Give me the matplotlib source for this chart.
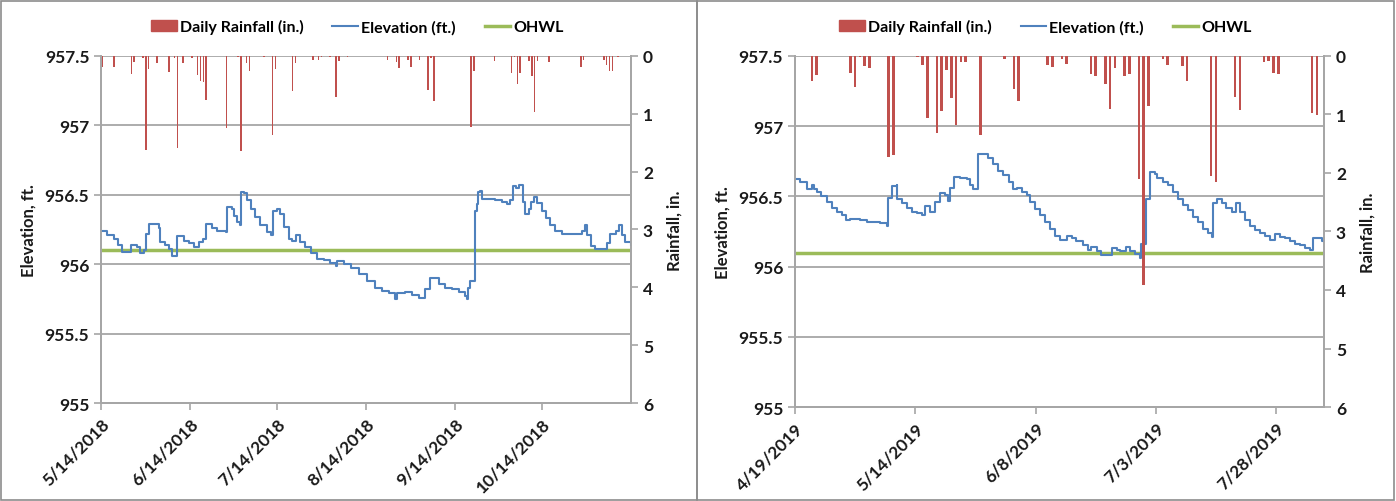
#importing Libraries
import numpy as np
import pandas as pd
import matplotlib
matplotlib.use("Agg")
import matplotlib.pyplot as plt
from matplotlib.patches import Rectangle, Patch
from matplotlib.lines import Line2D

plt.rcParams['font.family'] = ['Lato', 'DejaVu Sans']
plt.rcParams['font.weight'] = 'bold'
plt.rcParams['axes.labelweight'] = 'bold'

#----- 2018 panel data (days after 5/14/2018) -----
start_l = pd.Timestamp("2018-05-14")
end_l = pd.Timestamp("2018-11-14")
rain_day_l = [0, 4, 10, 11, 14, 15, 16, 19, 23, 25, 26, 28, 31, 33, 34, 35, 36,
              43, 47, 48, 50, 51, 56, 59, 60, 66, 67, 73, 75, 76, 79, 81, 82,
              85, 99, 102, 103, 106, 107, 110, 113, 114, 115, 128, 129, 136,
              142, 143, 144, 145, 148, 149, 150, 151, 155, 166, 167, 174, 175,
              176, 177, 179]
rain_l = [0.19, 0.19, 0.32, 0.10, 0.04, 1.62, 0.23, 0.12, 0.28, 0.04, 1.60,
          0.12, 0.04, 0.34, 0.43, 0.46, 0.77, 1.24, 0.03, 1.64, 0.12, 0.26,
          0.03, 1.37, 0.23, 0.61, 0.13, 0.08, 0.08, 0.03, 0.03, 0.72, 0.09,
          0.02, 0.08, 0.10, 0.21, 0.08, 0.20, 0.08, 0.60, 0.04, 0.78, 1.23,
          0.27, 0.09, 0.29, 0.03, 0.49, 0.29, 0.09, 0.35, 0.97, 0.09, 0.10,
          0.19, 0.08, 0.08, 0.16, 0.27, 0.27, 0.02]
elev_day_l = [0, 2, 4.4, 5.8, 7.3, 10.5, 12.5, 13.5, 14.8, 15.5, 16.5, 18.9,
              20, 20.6, 22.3, 23.5, 24.7, 26.5, 28.7, 30.4, 32.2, 33.9, 35.4,
              36.5, 38.5, 40.3, 43.2, 43.8, 45.5, 46.1, 47.2, 48.1, 48.6, 49.5,
              50.7, 51.9, 53.6, 55.3, 57.6, 59, 59.7, 61.1, 62, 63.4, 65.2,
              66.3, 67.5, 69.2, 70.9, 72.7, 75, 77.3, 79.6, 81.4, 81.9, 84.3,
              86.6, 89.5, 92.4, 95.2, 97.5, 99.9, 102.2, 102.8, 105.6, 108,
              110.3, 112.4, 114.3, 115.5, 117.2, 119.5, 121.9, 124.2, 126.5,
              127.1, 127.4, 128.2, 129.7, 130.5, 130.9, 131.7, 132.3, 136.9,
              139.2, 140.9, 142.1, 142.9, 144.1, 145, 146.4, 147.1, 148.5,
              149.1, 150.2, 151.4, 153.1, 154.3, 156, 157.7, 160, 164.7, 167,
              167.9, 168.7, 169.9, 171.6, 173.4, 175.7, 176.8, 178.6, 179.7,
              180.9, 182, 183.8, 184]
elev_l = [956.24, 956.21, 956.18, 956.14, 956.09, 956.14, 956.12, 956.08,
          956.10, 956.22, 956.29, 956.29, 956.26, 956.16, 956.14, 956.11,
          956.06, 956.20, 956.17, 956.15, 956.12, 956.16, 956.18, 956.29,
          956.26, 956.24, 956.23, 956.41, 956.40, 956.35, 956.30, 956.28,
          956.52, 956.51, 956.46, 956.40, 956.34, 956.28, 956.23, 956.21,
          956.38, 956.40, 956.36, 956.27, 956.18, 956.17, 956.21, 956.16,
          956.12, 956.08, 956.04, 956.03, 956.01, 955.99, 956.02, 956.00,
          955.97, 955.93, 955.88, 955.83, 955.81, 955.79, 955.75, 955.79,
          955.80, 955.78, 955.76, 955.82, 955.90, 955.90, 955.86, 955.83,
          955.82, 955.80, 955.77, 955.75, 955.83, 955.88, 956.38, 956.43,
          956.52, 956.53, 956.47, 956.46, 956.45, 956.43, 956.46, 956.56,
          956.55, 956.57, 956.45, 956.36, 956.40, 956.45, 956.48, 956.44,
          956.38, 956.33, 956.28, 956.24, 956.22, 956.22, 956.24, 956.28,
          956.21, 956.13, 956.11, 956.11, 956.15, 956.22, 956.24, 956.28,
          956.21, 956.16, 956.14, 956.14]
ticks_l = ["2018-05-14", "2018-06-14", "2018-07-14", "2018-08-14",
           "2018-09-14", "2018-10-14"]
ticklabels_l = ["5/14/2018", "6/14/2018", "7/14/2018", "8/14/2018",
                "9/14/2018", "10/14/2018"]

#----- 2019 panel data (days after 4/19/2019) -----
start_r = pd.Timestamp("2019-04-19")
end_r = pd.Timestamp("2019-08-07")
rain_day_r = [2, 3, 4, 11, 12, 13, 14, 15, 19, 20, 25, 26, 27, 29, 30, 31, 32,
              33, 34, 35, 38, 43, 45, 46, 52, 53, 55, 56, 57, 61, 62, 64, 65,
              66, 68, 69, 71, 72, 73, 75, 76, 77, 80, 81, 86, 87, 91, 92, 97,
              98, 99, 100, 107, 108]
rain_r = [0.01, 0.44, 0.33, 0.30, 0.54, 0.03, 0.17, 0.21, 1.73, 1.70, 0.03,
          0.15, 1.07, 1.32, 0.95, 0.24, 0.73, 1.18, 0.10, 0.10, 1.35, 0.05,
          0.56, 0.78, 0.15, 0.20, 0.05, 0.14, 0.01, 0.32, 0.35, 0.48, 0.91,
          0.21, 0.35, 0.31, 2.11, 3.92, 0.86, 0.01, 0.06, 0.16, 0.17, 0.44,
          2.06, 2.15, 0.70, 0.92, 0.10, 0.09, 0.30, 0.32, 0.98, 1.02]
elev_day_r = [0, 1, 2.4, 3.5, 3.9, 4.5, 5.5, 6.6, 7.6, 8.7, 9.7, 10.7, 11.4,
              13.5, 14.9, 16.3, 17.7, 19.1, 19.3, 20.1, 21.1, 21.3, 22.2, 23.2,
              24.3, 25.3, 26.3, 27, 28.1, 29.1, 30.1, 31.2, 31.9, 32.2, 33.1,
              34.3, 35.7, 36.4, 37.1, 38.1, 39.2, 40.2, 41.2, 42.3, 43.3, 44.4,
              45.4, 46.2, 47.1, 48.2, 48.9, 49.9, 51, 52, 53, 54, 55.1, 56.5,
              57.5, 58.5, 59.9, 61, 61.6, 62.7, 63.7, 64.8, 65.8, 66.9, 67.6,
              68.8, 69.6, 70.7, 71.7, 71.9, 72.9, 73.7, 73.8, 74.8, 75.2, 76.6,
              77.6, 78.6, 79.7, 80.7, 81.8, 82.8, 83.8, 84.9, 85.9, 86.7, 86.8,
              87.7, 88.7, 89.7, 90.8, 91.7, 92.5, 93.5, 94.6, 95.6, 96.7, 97.7,
              98.7, 99.8, 100.8, 101.9, 102.9, 103.9, 105, 106, 107, 107.6,
              108.4, 109.5, 110]
elev_r = [956.62, 956.60, 956.55, 956.58, 956.55, 956.53, 956.50, 956.46,
          956.42, 956.39, 956.37, 956.33, 956.34, 956.33, 956.32, 956.32,
          956.31, 956.29, 956.49, 956.57, 956.58, 956.48, 956.45, 956.42,
          956.39, 956.38, 956.37, 956.43, 956.39, 956.46, 956.52, 956.51,
          956.47, 956.56, 956.64, 956.63, 956.62, 956.58, 956.55, 956.80,
          956.80, 956.77, 956.73, 956.68, 956.65, 956.60, 956.55, 956.56,
          956.53, 956.51, 956.46, 956.41, 956.37, 956.32, 956.27, 956.22,
          956.19, 956.22, 956.20, 956.18, 956.15, 956.12, 956.14, 956.11,
          956.08, 956.08, 956.13, 956.12, 956.11, 956.14, 956.11, 956.09,
          956.06, 956.16, 956.48, 956.50, 956.67, 956.66, 956.63, 956.60,
          956.58, 956.53, 956.48, 956.44, 956.40, 956.35, 956.32, 956.27,
          956.24, 956.21, 956.45, 956.48, 956.45, 956.42, 956.39, 956.45,
          956.39, 956.33, 956.29, 956.26, 956.24, 956.22, 956.19, 956.23,
          956.21, 956.20, 956.18, 956.16, 956.15, 956.13, 956.12, 956.20,
          956.20, 956.18, 956.18]
ticks_r = ["2019-04-19", "2019-05-14", "2019-06-08", "2019-07-03",
           "2019-07-28"]
ticklabels_r = ["4/19/2019", "5/14/2019", "6/8/2019", "7/3/2019",
                "7/28/2019"]

ohwl = 956.1
elev_ticks = [955, 955.5, 956, 956.5, 957, 957.5]
elev_ticklabels = ["955", "955.5", "956", "956.5", "957", "957.5"]
rain_ticks = [0, 1, 2, 3, 4, 5, 6]

#colours (excel default palette)
RED = "#c0504d"
BLUE = "#4f81bd"
GREEN = "#9bbb59"
GRID = "#a6a6a6"
TXT = "#1a1a1a"


def draw_panel(fig, rect, start, end, rain_day, rain, elev_day, elev,
               ticks, ticklabels, legend_x):
    '''
        One chart: stepped elevation + OHWL on the left axis,
        daily rainfall bars hanging from the top on the right axis.
    '''
    ax = fig.add_axes(rect)
    ax2 = ax.twinx()

    #elevation line and OHWL
    t_elev = start + pd.to_timedelta(elev_day, unit="D")
    ax.step(t_elev, elev, where="post", color=BLUE, lw=1.5, zorder=3)
    ax.axhline(ohwl, color=GREEN, lw=2.5, zorder=2)

    #rainfall bars (centred on each day)
    t_rain = start + pd.to_timedelta(np.array(rain_day) + 0.5, unit="D")
    ax2.bar(t_rain, rain, width=0.55, color=RED, zorder=4)

    ax.set_xlim(start, end)
    ax.set_ylim(955, 957.5)
    ax2.set_ylim(6, 0)

    ax.set_yticks(elev_ticks)
    ax.set_yticklabels(elev_ticklabels)
    ax2.set_yticks(rain_ticks)
    ax.set_xticks(pd.to_datetime(ticks))
    ax.set_xticklabels(ticklabels, rotation=45, ha="right", va="top",
                       rotation_mode="anchor")

    ax.grid(axis="y", color=GRID, lw=1.3)
    ax.set_axisbelow(True)
    for a in (ax, ax2):
        for s in a.spines.values():
            s.set_color(GRID)
            s.set_linewidth(1.3)
        a.spines["top"].set_visible(False)
        a.tick_params(colors=GRID, labelcolor=TXT, labelsize=12.5,
                      length=5, width=1.2)
    ax.tick_params(axis="x", pad=4)

    ax.set_ylabel("Elevation, ft.", fontsize=12, color=TXT, labelpad=6)
    ax2.set_ylabel("Rainfall, in.", fontsize=12, color=TXT, labelpad=10)

    #legend on top
    handles = [Patch(color=RED), Line2D([], [], color=BLUE, lw=1.5),
               Line2D([], [], color=GREEN, lw=2.5)]
    names = ["Daily Rainfall (in.)", "Elevation (ft.)", "OHWL"]
    fig.legend(handles, names, loc="center", ncol=3, frameon=False,
               bbox_to_anchor=(legend_x, 0.945), fontsize=11.5,
               handlelength=1.6, handletextpad=0.2, columnspacing=1.8)
    return ax


#plotting figuresize
fig = plt.figure(figsize=(13.96, 5.02), dpi=100)

draw_panel(fig, [0.0724, 0.195, 0.3797, 0.692], start_l, end_l, rain_day_l,
           rain_l, elev_day_l, elev_l, ticks_l, ticklabels_l, 0.256)
draw_panel(fig, [0.5695, 0.187, 0.379, 0.700], start_r, end_r, rain_day_r,
           rain_r, elev_day_r, elev_r, ticks_r, ticklabels_r, 0.749)

#chart borders
fig.add_artist(Rectangle((0.001, 0.002), 0.4985, 0.995, fill=False,
                         edgecolor="#8c8c8c", lw=1.2,
                         transform=fig.transFigure))
fig.add_artist(Rectangle((0.4993, 0.002), 0.4995, 0.995, fill=False,
                         edgecolor="#8c8c8c", lw=1.2,
                         transform=fig.transFigure))

fig.savefig("out.png", dpi=100)
